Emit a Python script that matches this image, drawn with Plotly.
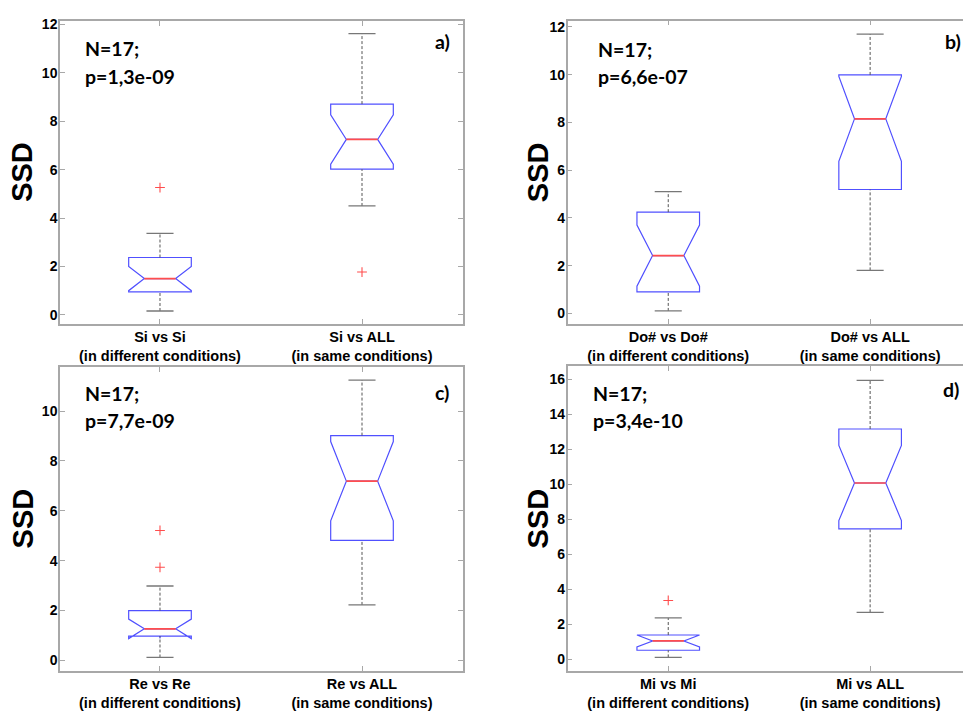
import plotly.graph_objects as go

W, H = 963, 711

# ---------------- data ----------------
panel_tags = ["a)", "b)", "c)", "d)"]
notes = ["Si", "Do#", "Re", "Mi"]
n_value = 17
p_values = ["1,3e-09", "6,6e-07", "7,7e-09", "3,4e-10"]
positions = [1, 2]

lower_a = [0.16, 4.50]
q1_a = [0.95, 6.02]
med_a = [1.50, 7.25]
q3_a = [2.37, 8.71]
upper_a = [3.37, 11.62]
notch_a = [0.50, 1.02]
out_x_a = [1, 2]
out_y_a = [5.26, 1.77]

lower_b = [0.10, 1.80]
q1_b = [0.90, 5.19]
med_b = [2.42, 8.15]
q3_b = [4.24, 9.99]
upper_b = [5.10, 11.70]
notch_b = [1.28, 1.78]
out_x_b = []
out_y_b = []

lower_c = [0.11, 2.22]
q1_c = [0.97, 4.81]
med_c = [1.26, 7.19]
q3_c = [1.99, 9.02]
upper_c = [2.98, 11.25]
notch_c = [0.39, 1.59]
out_x_c = [1, 1]
out_y_c = [5.21, 3.73]

lower_d = [0.10, 2.68]
q1_d = [0.51, 7.46]
med_d = [1.04, 10.08]
q3_d = [1.38, 13.17]
upper_d = [2.36, 15.95]
notch_d = [0.34, 2.15]
out_x_d = [1]
out_y_d = [3.36]

y_ranges = [[-0.37, 12.15], [-0.44, 12.27], [-0.42, 11.77], [-0.66, 16.77]]
y_dticks = [2, 2, 2, 2]

# ---------------- layout geometry (pixels) ----------------
frames = [  # left, right, top, bottom
    (60, 463, 17, 323),
    (567.7, 963, 16.7, 323),
    (60, 463, 366.7, 673.3),
    (567.7, 963, 365.7, 673.3),
]
x_ranges = [[0.505, 2.5], [0.502, 2.46], [0.505, 2.5], [0.502, 2.46]]
ssd_x = [22.5, 538, 22.5, 538]
n_pos = [(83, 45), (595.7, 45.7), (83, 393.3), (591, 393.3)]
p_pos = [(83, 73.7), (595.7, 73.3), (83, 420.7), (591, 420.7)]
tag_pos = [(433, 38), (943, 38), (433, 392), (941, 389)]

panels = [
    (lower_a, q1_a, med_a, q3_a, upper_a, notch_a, out_x_a, out_y_a),
    (lower_b, q1_b, med_b, q3_b, upper_b, notch_b, out_x_b, out_y_b),
    (lower_c, q1_c, med_c, q3_c, upper_c, notch_c, out_x_c, out_y_c),
    (lower_d, q1_d, med_d, q3_d, upper_d, notch_d, out_x_d, out_y_d),
]

BOX_W = 0.31
CAP_HALF = 0.067
NOTCH_PLOTLY = 0.25      # plotly: notch narrows to (1 - 2*notchwidth) of the box width
MEDIAN_FRAC = 0.5        # width of notch waist relative to box width
BLUE = "#5050ff"
RED = "#ff4d4d"
FRAME = "#a8a8a8"
WHISK = "#555555"

ytick_font = dict(family="Liberation Sans, Arial, sans-serif", size=14, color="black", weight="bold")
xtick_font = dict(family="Liberation Sans, Arial, sans-serif", size=14.5, color="black", weight="bold")
text_font = dict(family="Lato, Carlito, sans-serif", size=19.5, color="black", weight="bold")

fig = go.Figure()
layout = dict(width=W, height=H, margin=dict(l=0, r=0, t=0, b=0),
              paper_bgcolor="white", plot_bgcolor="white", showlegend=False,
              boxmode="overlay")
annotations = []

for i, (lo, q1, md, q3, up, nsp, ox, oy) in enumerate(panels):
    k = "" if i == 0 else str(i + 1)
    xa, ya = "x" + k, "y" + k
    l, r, t, b = frames[i]

    # whiskers (dashed)
    wx, wy = [], []
    for p, a, c, e, f in zip(positions, lo, q1, q3, up):
        wx += [p, p, None, p, p, None]
        wy += [a, c, None, e, f, None]
    fig.add_trace(go.Scatter(x=wx, y=wy, mode="lines", xaxis=xa, yaxis=ya,
                             line=dict(color=WHISK, width=1, dash="3px,2px"),
                             hoverinfo="skip"))
    # caps
    cx, cy = [], []
    for p, a, f in zip(positions, lo, up):
        cx += [p - CAP_HALF, p + CAP_HALF, None, p - CAP_HALF, p + CAP_HALF, None]
        cy += [a, a, None, f, f, None]
    fig.add_trace(go.Scatter(x=cx, y=cy, mode="lines", xaxis=xa, yaxis=ya,
                             line=dict(color="#777777", width=1.3), hoverinfo="skip"))
    # notched box
    fig.add_trace(go.Box(x=positions, q1=q1, median=md, q3=q3,
                         lowerfence=q1, upperfence=q3, notchspan=nsp,
                         notched=True, notchwidth=NOTCH_PLOTLY, width=BOX_W,
                         whiskerwidth=0, boxpoints=False,
                         line=dict(color=BLUE, width=1.2),
                         fillcolor="rgba(0,0,0,0)", xaxis=xa, yaxis=ya,
                         hoverinfo="skip"))
    # medians (red)
    mh = BOX_W / 2 * MEDIAN_FRAC
    mx, my = [], []
    for p, m in zip(positions, md):
        mx += [p - mh, p + mh, None]
        my += [m, m, None]
    fig.add_trace(go.Scatter(x=mx, y=my, mode="lines", xaxis=xa, yaxis=ya,
                             line=dict(color=RED, width=1.7), hoverinfo="skip"))
    # outliers
    if ox:
        fig.add_trace(go.Scatter(x=ox, y=oy, mode="markers", xaxis=xa, yaxis=ya,
                                 marker=dict(symbol="cross-thin", size=7,
                                             line=dict(color=RED, width=1.1)),
                                 hoverinfo="skip"))

    note = notes[i]
    ticktext = [f"{note} vs {note}<br>(in different conditions)",
                f"{note} vs ALL<br>(in same conditions)"]
    right_edge = i in (0, 2)
    layout["xaxis" + k] = dict(domain=[l / W, min(r / W, 1.0)], range=x_ranges[i],
                               anchor=ya, tickvals=positions, ticktext=ticktext,
                               ticks="inside", ticklen=5, tickcolor=FRAME,
                               showline=True, linecolor=FRAME, linewidth=1.5,
                               mirror="ticks", showgrid=False, zeroline=False,
                               tickfont=xtick_font, ticklabelstandoff=-1,
                               fixedrange=True)
    layout["yaxis" + k] = dict(domain=[1 - b / H, 1 - t / H], range=y_ranges[i],
                               anchor=xa, dtick=y_dticks[i], tick0=0,
                               ticks="inside", ticklen=5, tickcolor=FRAME,
                               showline=True, linecolor=FRAME, linewidth=1.5,
                               mirror="ticks" if right_edge else False,
                               showgrid=False, zeroline=False,
                               tickfont=ytick_font, ticklabelstandoff=-2,
                               fixedrange=True)

    cy_mid = (t + b) / 2
    annotations.append(dict(text="SSD", x=ssd_x[i] / W, y=1 - cy_mid / H,
                            xref="paper", yref="paper", showarrow=False,
                            textangle=-90, xanchor="center", yanchor="middle",
                            font=dict(family="Liberation Sans, Arial, sans-serif",
                                      size=29, color="black", weight="bold")))
    annotations.append(dict(text=f"N={n_value};", x=n_pos[i][0] / W, y=1 - n_pos[i][1] / H,
                            xref="paper", yref="paper", showarrow=False,
                            xanchor="left", yanchor="middle", font=text_font))
    annotations.append(dict(text=f"p={p_values[i]}", x=p_pos[i][0] / W, y=1 - p_pos[i][1] / H,
                            xref="paper", yref="paper", showarrow=False,
                            xanchor="left", yanchor="middle", font=text_font))
    annotations.append(dict(text=panel_tags[i], x=tag_pos[i][0] / W, y=1 - tag_pos[i][1] / H,
                            xref="paper", yref="paper", showarrow=False,
                            xanchor="left", yanchor="middle", font=text_font))

layout["annotations"] = annotations
fig.update_layout(**layout)
fig.write_html("out.html", config={"displayModeBar": False})
